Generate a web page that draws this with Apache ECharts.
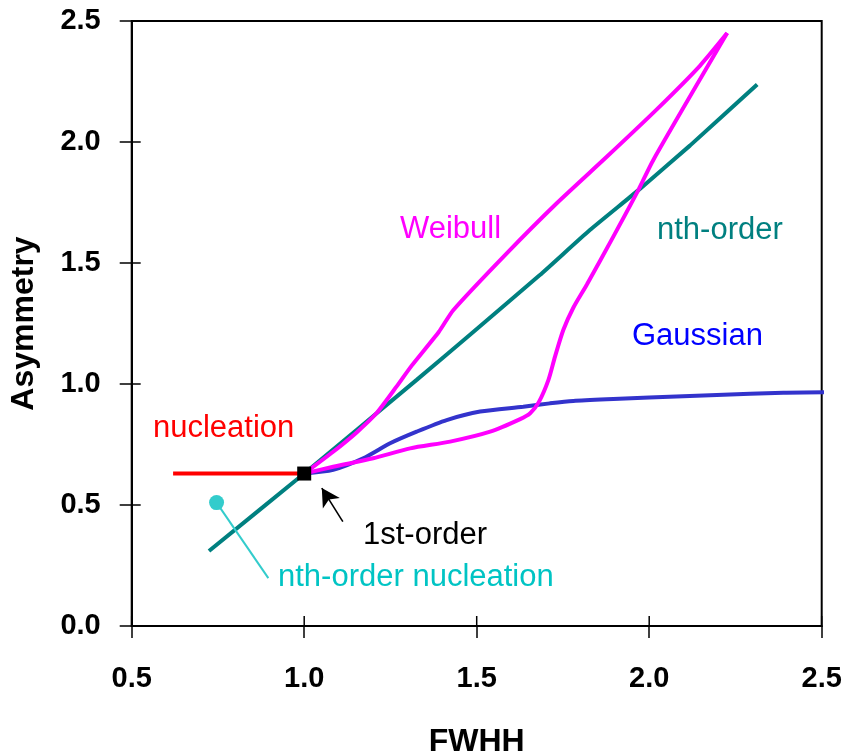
<!DOCTYPE html>
<html>
<head>
<meta charset="utf-8">
<script src="https://cdn.jsdelivr.net/npm/echarts@6/dist/echarts.min.js"></script>
<style>
  html, body { margin: 0; padding: 0; background: #fff; }
  #chart { width: 846px; height: 755px; }
</style>
</head>
<body>
<div id="chart"></div>
<script>
// ---- Data ----
var xTicks = [0.5, 1.0, 1.5, 2.0, 2.5];
var yTicks = [0.0, 0.5, 1.0, 1.5, 2.0, 2.5];

var nucleationX = [0.62, 1.0];
var nucleationY = [0.63, 0.63];

var nthOrderX = [0.724, 1.0, 1.326, 1.49, 1.683, 1.828, 1.968, 2.118, 2.313];
var nthOrderY = [0.31, 0.63, 1.017, 1.215, 1.45, 1.636, 1.80, 1.985, 2.238];

var weibullUpX = [1.0, 1.084, 1.152, 1.21, 1.268, 1.311, 1.39, 1.432, 1.587, 1.732, 1.877, 2.022, 2.147, 2.226];
var weibullUpY = [0.63, 0.72, 0.80, 0.88, 0.99, 1.075, 1.215, 1.305, 1.54, 1.747, 1.939, 2.135, 2.315, 2.45];

var weibullLowX = [2.226, 2.012, 1.968, 1.896, 1.819, 1.78, 1.751, 1.727, 1.708, 1.68, 1.655, 1.626, 1.539, 1.423, 1.307, 1.2, 1.084, 1.0];
var weibullLowY = [2.45, 1.926, 1.80, 1.609, 1.41, 1.315, 1.223, 1.113, 1.017, 0.925, 0.879, 0.855, 0.803, 0.762, 0.734, 0.693, 0.658, 0.63];

var gaussianX = [1.0, 1.084, 1.171, 1.249, 1.326, 1.413, 1.51, 1.635, 1.712, 1.78, 1.896, 2.0, 2.196, 2.389, 2.514];
var gaussianY = [0.63, 0.645, 0.693, 0.755, 0.803, 0.851, 0.886, 0.906, 0.920, 0.930, 0.938, 0.944, 0.955, 0.964, 0.966];

var firstOrderPoint = [1.0, 0.63];
var nthNucleationPoint = [0.746, 0.51];
var nthNucleationLeaderEnd = [0.896, 0.198];
var arrowTail = [1.112, 0.431];
var arrowTip = [1.051, 0.570];

function pairs(xs, ys) { return xs.map(function (x, i) { return [x, ys[i]]; }); }

var FONT = "'Liberation Sans', Arial, sans-serif";
var chart = echarts.init(document.getElementById('chart'), null, { renderer: 'canvas' });

var axisLineStyle = { color: '#000', width: 2 };

function textEl(id, text, x, y, color) {
  return { type: 'text', id: id, x: x, y: y, z: 20,
    style: { text: text, fill: color, font: '31px ' + FONT, align: 'left', verticalAlign: 'middle' } };
}
var textGraphics = [
  textEl('t1', 'Weibull', 400, 229, '#FF00FF'),
  textEl('t2', 'nth-order', 657, 230, '#008080'),
  textEl('t3', 'Gaussian', 632, 336, '#0000FF'),
  textEl('t4', 'nucleation', 153, 428, '#FF0000'),
  textEl('t5', '1st-order', 363, 535, '#000000'),
  textEl('t6', 'nth-order nucleation', 278, 577, '#00C4C4')
];

function buildOption(extraGraphics) {
  return {
    animation: false,
    backgroundColor: '#fff',
    grid: {
      left: 131.7, right: 24.3, top: 21, bottom: 129,
      containLabel: false, outerBoundsMode: 'none',
      show: true, borderColor: '#000', borderWidth: 2, backgroundColor: 'transparent'
    },
    xAxis: {
      type: 'value', min: 0.5, max: 2.5, interval: 0.5, position: 'bottom',
      splitLine: { show: false },
      name: 'FWHH', nameLocation: 'middle', nameGap: 100,
      nameTextStyle: { fontFamily: FONT, fontWeight: 'bold', fontSize: 32, color: '#000' },
      axisLine: { lineStyle: axisLineStyle },
      axisTick: { show: true, inside: false, length: 12, lineStyle: { color: '#000', width: 1.5 } },
      axisLabel: {
        margin: 38, fontFamily: FONT, fontWeight: 'bold', fontSize: 29, color: '#000',
        formatter: function (v) { return v.toFixed(1); }
      }
    },
    yAxis: {
      type: 'value', min: 0, max: 2.5, interval: 0.5, position: 'left',
      splitLine: { show: false },
      name: 'Asymmetry', nameLocation: 'middle', nameGap: 92,
      nameTextStyle: { fontFamily: FONT, fontWeight: 'bold', fontSize: 32, color: '#000' },
      axisLine: { lineStyle: axisLineStyle },
      axisTick: { show: true, inside: false, length: 12, lineStyle: { color: '#000', width: 1.5 } },
      axisLabel: {
        margin: 31, fontFamily: FONT, fontWeight: 'bold', fontSize: 29, color: '#000',
        formatter: function (v) { return v.toFixed(1); }
      }
    },
    series: [
      {
        name: 'nucleation', type: 'line', data: pairs(nucleationX, nucleationY),
        symbol: 'none', lineStyle: { color: '#FF0000', width: 4 }, z: 2
      },
      {
        name: 'nth-order', type: 'line', data: pairs(nthOrderX, nthOrderY),
        symbol: 'none', smooth: 0.15, lineStyle: { color: '#008080', width: 4 }, z: 3
      },
      {
        name: 'Gaussian', type: 'line', data: pairs(gaussianX, gaussianY), clip: false,
        symbol: 'none', smooth: 0.25, lineStyle: { color: '#3333CC', width: 4 }, z: 4
      },
      {
        name: 'Weibull', type: 'line', data: pairs(weibullUpX, weibullUpY),
        symbol: 'none', smooth: 0.2, lineStyle: { color: '#FF00FF', width: 4 }, z: 5
      },
      {
        name: 'Weibull', type: 'line', data: pairs(weibullLowX, weibullLowY),
        symbol: 'none', smooth: 0.25, lineStyle: { color: '#FF00FF', width: 4 }, z: 5
      },
      {
        name: 'leader', type: 'line',
        data: [nthNucleationPoint, nthNucleationLeaderEnd],
        symbol: 'none', lineStyle: { color: '#33CCCC', width: 2 }, z: 6
      },
      {
        name: 'nth-order nucleation', type: 'scatter', data: [nthNucleationPoint],
        symbol: 'circle', symbolSize: 15, itemStyle: { color: '#33CCCC', opacity: 1 }, z: 7
      },
      {
        name: '1st-order', type: 'scatter', data: [firstOrderPoint],
        symbol: 'rect', symbolSize: 14, itemStyle: { color: '#000', opacity: 1 }, z: 8,
        markLine: {
          silent: true, animation: false,
          symbol: ['none', 'arrow'], symbolSize: [15, 18],
          label: { show: false },
          lineStyle: { color: '#000', width: 1.6, type: 'solid', opacity: 1 },
          itemStyle: { color: '#000' },
          data: [[{ coord: arrowTail }, { coord: arrowTip }]]
        }
      }
    ],
    graphic: { elements: textGraphics.concat(extraGraphics || []) }
  };
}

chart.setOption(buildOption([]));

// Inner halves of the crossing tick marks, positioned through the axis scales
var tickGraphics = [];
var xAxisY = chart.convertToPixel({ yAxisIndex: 0 }, 0);
var yAxisX = chart.convertToPixel({ xAxisIndex: 0 }, 0.5);
xTicks.forEach(function (v, i) {
  var px = chart.convertToPixel({ xAxisIndex: 0 }, v);
  tickGraphics.push({ type: 'line', id: 'xt' + i, z: 30, silent: true,
    shape: { x1: px, y1: xAxisY, x2: px, y2: xAxisY - 10 },
    style: { stroke: '#000000', lineWidth: 1.5 } });
});
yTicks.forEach(function (v, i) {
  var py = chart.convertToPixel({ yAxisIndex: 0 }, v);
  tickGraphics.push({ type: 'line', id: 'yt' + i, z: 30, silent: true,
    shape: { x1: yAxisX, y1: py, x2: yAxisX + 9, y2: py },
    style: { stroke: '#000000', lineWidth: 1.5 } });
});
chart.setOption(buildOption(tickGraphics), true);
</script>
</body>
</html>
